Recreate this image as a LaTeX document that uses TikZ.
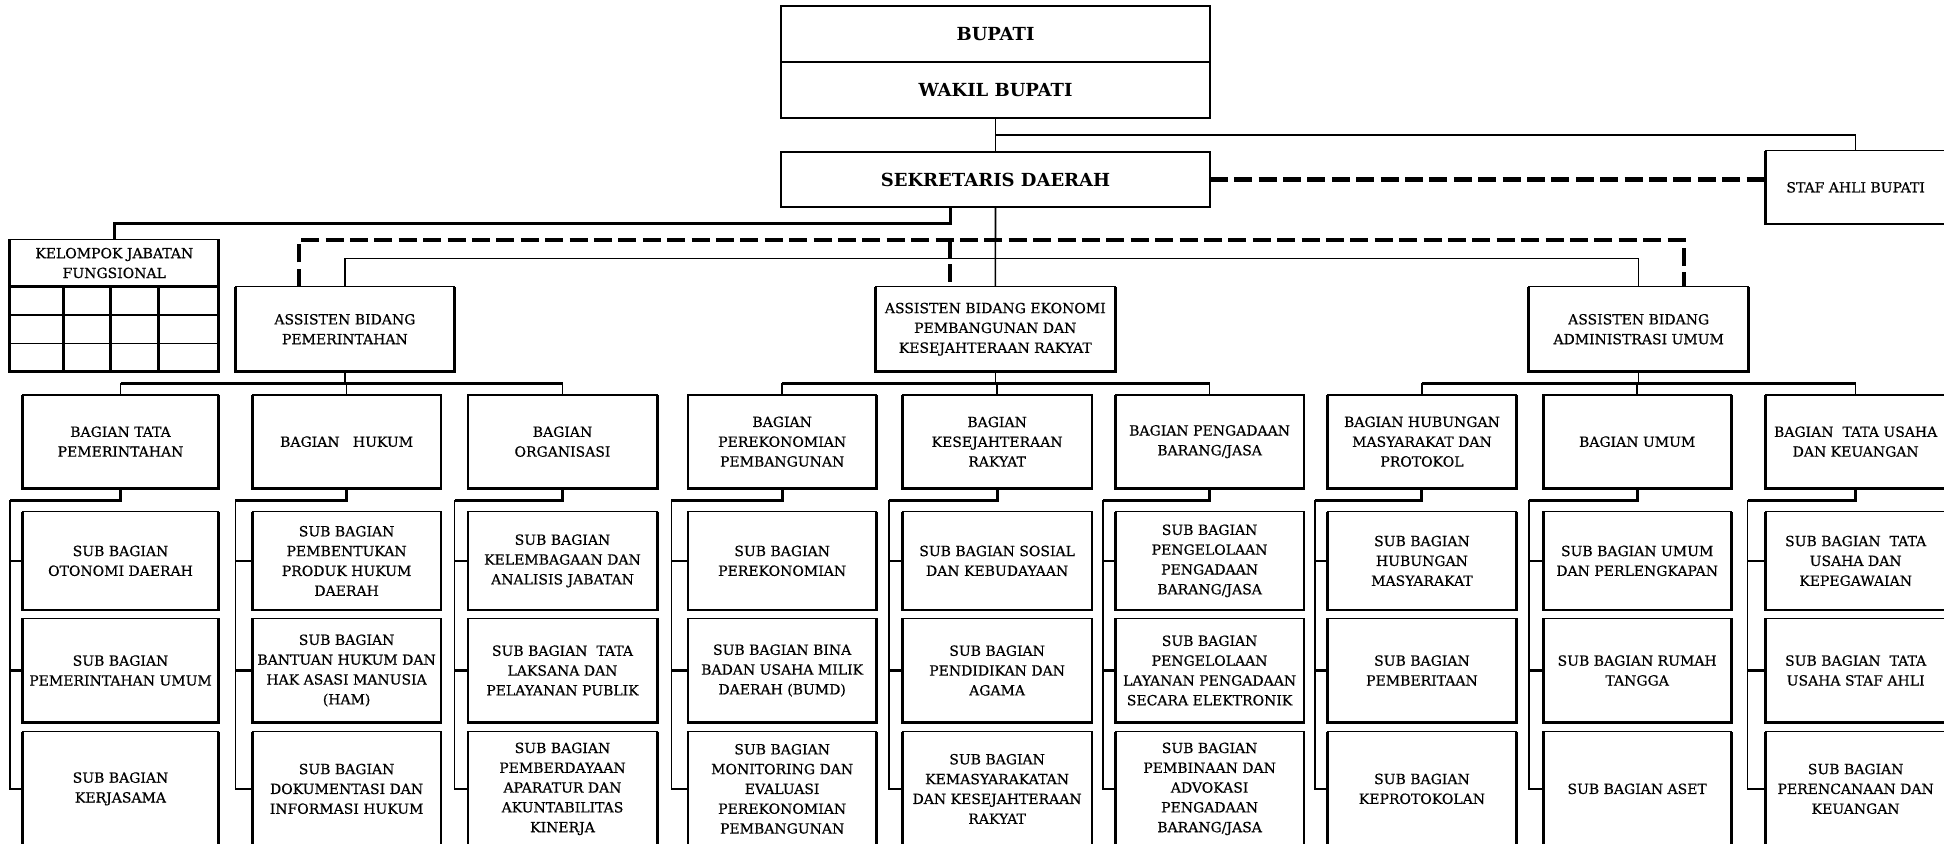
\documentclass[tikz,border=0pt]{standalone}
\usepackage{fontspec}
\setmainfont{DejaVu Serif}
\newfontfamily\boxfont{DejaVu Serif}[FakeBold=0.6]
\usetikzlibrary{calc}
\begin{document}
\begin{tikzpicture}[x=0.5pt,y=-0.5pt,
  bx/.style n args={4}{draw, line width=0.7pt, inner sep=1pt, outer sep=0pt, align=center,
     font=\boxfont\fontsize{7}{9.9}\selectfont,
     at={({(#1+#2)/2},{(#3+#4)/2})},
     minimum width={(#2-#1)*0.5pt}, minimum height={(#4-#3)*0.5pt}},
  hd/.style n args={4}{bx={#1}{#2}{#3}{#4}, line width=1pt, font=\bfseries\fontsize{9}{11}\selectfont},
  thn/.style={line width=0.8pt},
  thk/.style={line width=1.5pt},
  edge/.style={line width=1.4pt},
  dsh/.style={line width=2.4pt, dash pattern=on 9pt off 3.2pt}
]
\useasboundingbox (0,0) rectangle (1944,843);

% top
\node[hd={781.25}{1209.8}{6}{61.7}] (bupati) {BUPATI};
\node[hd={781.25}{1209.8}{61.7}{118.3}] (wakil) {WAKIL BUPATI};
\node[hd={781.25}{1209.8}{151.7}{207.3}] (sekda) {SEKRETARIS DAERAH};
\node[bx={1765.3}{1946}{150.7}{224}] (staf) {STAF AHLI BUPATI};

% kelompok jabatan fungsional
\node[bx={9.8}{218.75}{239.3}{286.7}] (kel) {KELOMPOK JABATAN\\FUNGSIONAL};
\node[bx={9.8}{218.75}{286.7}{371.7}] (kelgrid) {};
\draw[thn] (9.8,315) -- (218.75,315);
\draw[thn] (9.8,343.3) -- (218.75,343.3);
\foreach \gx in {63.8,110.7,158.5} \draw[thk] (\gx,286.7) -- (\gx,371.7);

% asisten
\node[bx={235.3}{454.5}{286.7}{371.7}] (asp) {ASSISTEN BIDANG\\PEMERINTAHAN};
\node[bx={875.4}{1115.2}{286.7}{371.7}] (ase) {ASSISTEN BIDANG EKONOMI\\PEMBANGUNAN DAN\\KESEJAHTERAAN RAKYAT};
\node[bx={1528.8}{1748.5}{286.7}{371.7}] (asa) {ASSISTEN BIDANG\\ADMINISTRASI UMUM};

% bagian
\node[bx={22.3}{218.75}{395}{488.3}] (g1) {BAGIAN TATA\\PEMERINTAHAN};
\node[bx={252.2}{441}{395}{488.3}] (g2) {BAGIAN\ \ \ HUKUM};
\node[bx={467.9}{657.1}{395}{488.3}] (g3) {BAGIAN\\ORGANISASI};
\node[bx={688}{876.3}{395}{488.3}] (g4) {BAGIAN\\PEREKONOMIAN\\PEMBANGUNAN};
\node[bx={902.2}{1092}{395}{488.3}] (g5) {BAGIAN\\KESEJAHTERAAN\\RAKYAT};
\node[bx={1115.2}{1304}{395}{488.3}] (g6) {BAGIAN PENGADAAN\\BARANG/JASA};
\node[bx={1327.5}{1516.4}{395}{488.3}] (g7) {BAGIAN HUBUNGAN\\MASYARAKAT DAN\\PROTOKOL};
\node[bx={1543.1}{1731.2}{395}{488.3}] (g8) {BAGIAN UMUM};
\node[bx={1765.3}{1946}{395}{488.3}] (g9) {BAGIAN\ \ TATA USAHA\\DAN KEUANGAN};

% sub bagian row a
\node[bx={22.3}{218.75}{511.7}{610}] (sa1) {SUB BAGIAN\\OTONOMI DAERAH};
\node[bx={252.2}{441}{511.7}{610}] (sa2) {SUB BAGIAN\\PEMBENTUKAN\\PRODUK HUKUM\\DAERAH};
\node[bx={467.9}{657.1}{511.7}{610}] (sa3) {SUB BAGIAN\\KELEMBAGAAN DAN\\ANALISIS JABATAN};
\node[bx={688}{876.3}{511.7}{610}] (sa4) {SUB BAGIAN\\PEREKONOMIAN};
\node[bx={902.2}{1092}{511.7}{610}] (sa5) {SUB BAGIAN SOSIAL\\DAN KEBUDAYAAN};
\node[bx={1115.2}{1304}{511.7}{610}] (sa6) {SUB BAGIAN\\PENGELOLAAN\\PENGADAAN\\BARANG/JASA};
\node[bx={1327.5}{1516.4}{511.7}{610}] (sa7) {SUB BAGIAN\\HUBUNGAN\\MASYARAKAT};
\node[bx={1543.1}{1731.2}{511.7}{610}] (sa8) {SUB BAGIAN UMUM\\DAN PERLENGKAPAN};
\node[bx={1765.3}{1946}{511.7}{610}] (sa9) {SUB BAGIAN\ \ TATA\\USAHA DAN\\KEPEGAWAIAN};

% sub bagian row b
\node[bx={22.3}{218.75}{618.3}{722.7}] (sb1) {SUB BAGIAN\\PEMERINTAHAN UMUM};
\node[bx={252.2}{441}{618.3}{722.7}] (sb2) {SUB BAGIAN\\BANTUAN HUKUM DAN\\HAK ASASI MANUSIA\\(HAM)};
\node[bx={467.9}{657.1}{618.3}{722.7}] (sb3) {SUB BAGIAN\ \ TATA\\LAKSANA DAN\\PELAYANAN PUBLIK};
\node[bx={688}{876.3}{618.3}{722.7}] (sb4) {SUB BAGIAN BINA\\BADAN USAHA MILIK\\DAERAH (BUMD)};
\node[bx={902.2}{1092}{618.3}{722.7}] (sb5) {SUB BAGIAN\\PENDIDIKAN DAN\\AGAMA};
\node[bx={1115.2}{1304}{618.3}{722.7}] (sb6) {SUB BAGIAN\\PENGELOLAAN\\LAYANAN PENGADAAN\\SECARA ELEKTRONIK};
\node[bx={1327.5}{1516.4}{618.3}{722.7}] (sb7) {SUB BAGIAN\\PEMBERITAAN};
\node[bx={1543.1}{1731.2}{618.3}{722.7}] (sb8) {SUB BAGIAN RUMAH\\TANGGA};
\node[bx={1765.3}{1946}{618.3}{722.7}] (sb9) {SUB BAGIAN\ \ TATA\\USAHA STAF AHLI};

% sub bagian row c
\node[bx={22.3}{218.75}{731.7}{846}] (sc1) {SUB BAGIAN\\KERJASAMA};
\node[bx={252.2}{441}{731.7}{846}] (sc2) {SUB BAGIAN\\DOKUMENTASI DAN\\INFORMASI HUKUM};
\node[bx={467.9}{657.1}{731.7}{846}] (sc3) {SUB BAGIAN\\PEMBERDAYAAN\\APARATUR DAN\\AKUNTABILITAS\\KINERJA};
\node[bx={688}{876.3}{731.7}{846}] (sc4) {SUB BAGIAN\\MONITORING DAN\\EVALUASI\\PEREKONOMIAN\\PEMBANGUNAN};
\node[bx={902.2}{1092}{731.7}{846}] (sc5) {SUB BAGIAN\\KEMASYARAKATAN\\DAN KESEJAHTERAAN\\RAKYAT};
\node[bx={1115.2}{1304}{731.7}{846}] (sc6) {SUB BAGIAN\\PEMBINAAN DAN\\ADVOKASI\\PENGADAAN\\BARANG/JASA};
\node[bx={1327.5}{1516.4}{731.7}{846}] (sc7) {SUB BAGIAN\\KEPROTOKOLAN};
\node[bx={1543.1}{1731.2}{731.7}{846}] (sc8) {SUB BAGIAN ASET};
\node[bx={1765.3}{1946}{731.7}{846}] (sc9) {SUB BAGIAN\\PERENCANAAN DAN\\KEUANGAN};

% heavier left/bottom/right edges of the boxes
\foreach \n in {kel,kelgrid,asp,ase,asa,g1,g2,g3,g4,g5,g6,g7,g8,g9,sa1,sa2,sa3,sa4,sa5,sa6,sa7,sa8,sa9,sb1,sb2,sb3,sb4,sb5,sb6,sb7,sb8,sb9,sc1,sc2,sc3,sc4,sc5,sc6,sc7,sc8,sc9,staf}
  \draw[edge] (\n.north west) -- (\n.south west) -- (\n.south east) -- (\n.north east);

% top connectors
\coordinate (ws) at (0,135);
\draw[thn] (wakil.south) -- (sekda.north);
\draw[thn] (wakil.south |- ws) -| (staf.north);
\draw[dsh] (sekda.east) -- (sekda.east -| staf.west);

\coordinate (kk) at (950,223.3);
\draw[thk] (kk |- sekda.south) -- (kk) -| (kel.north);

\coordinate (dl) at (299,240);
\coordinate (dr) at (1684,240);
\draw[dsh] (dl |- asp.north) -- (dl) -- (dr) -- (dr |- asa.north);
\draw[dsh] (kk |- dl) -- (kk |- ase.north);

\coordinate (tl) at (0,258.3);
\draw[thn] (asp.north) -- (asp.north |- tl) -- (asa.north |- tl) -- (asa.north);
\draw[thn] (sekda.south) -- (ase.north);

% asisten -> bagian
\coordinate (hb) at (0,383.3);
\draw[thn] (asp.south) -- (asp.south |- hb);
\draw[thn] (ase.south) -- (ase.south |- hb);
\draw[thn] (asa.south) -- (asa.south |- hb);
\draw[thk] (g1.north |- hb) -- (g3.north |- hb);
\draw[thk] (g4.north |- hb) -- (g6.north |- hb);
\draw[thk] (g7.north |- hb) -- (g9.north |- hb);
\foreach \k in {1,...,9} \draw[thn] (g\k.north) -- (g\k.north |- hb);

% bagian -> sub bagian
\foreach \k/\sx in {1/9.8, 2/235.3, 3/454.5, 4/671.4, 5/888.8, 6/1103, 7/1315.2, 8/1529.2, 9/1747.6} {
  \coordinate (sp\k) at (\sx,500);
  \draw[thk] (g\k.south) -- (g\k.south |- sp\k) -- (sp\k);
  \draw[thn] (sp\k) -- (sp\k |- sc\k.west) -- (sc\k.west);
  \draw[thn] (sp\k |- sa\k.west) -- (sa\k.west);
  \draw[thk] (sp\k |- sb\k.west) -- (sb\k.west);
}
\end{tikzpicture}
\end{document}
